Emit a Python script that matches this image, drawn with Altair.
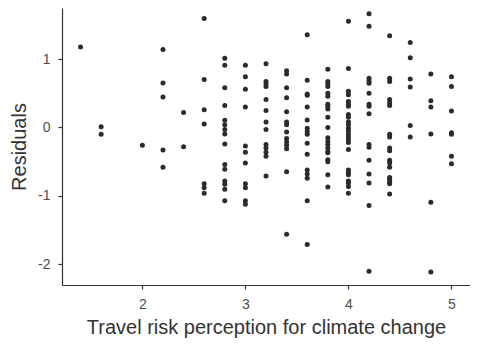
import altair as alt
import pandas as pd

x_levels = [1.4, 1.6, 2.0, 2.2, 2.4, 2.6, 2.8, 3.0, 3.2, 3.4, 3.6, 3.8, 4.0, 4.2, 4.4, 4.6, 4.8, 5.0]
residuals = [
    [1.175],
    [0.01, -0.10],
    [-0.26],
    [1.14, 0.65, 0.445, -0.33, -0.58],
    [0.22, -0.28],
    [1.59, 0.70, 0.26, 0.05, -0.82, -0.88, -0.96],
    [1.01, 0.91, 0.58, 0.32, 0.105, 0.04, -0.03, -0.095, -0.24, -0.54, -0.61, -0.78, -0.83, -0.90, -1.07],
    [0.91, 0.74, 0.56, 0.30, -0.27, -0.36, -0.52, -0.82, -0.88, -1.07, -1.12],
    [0.93, 0.67, 0.64, 0.60, 0.41, 0.25, 0.08, -0.03, -0.25, -0.30, -0.36, -0.42, -0.71],
    [0.83, 0.78, 0.58, 0.435, 0.23, 0.08, 0.04, -0.066, -0.16, -0.21, -0.26, -0.31, -0.645, -1.56],
    [1.355, 0.69, 0.49, 0.47, 0.30, 0.11, -0.01, -0.06, -0.10, -0.23, -0.39, -0.62, -0.68, -0.74, -1.07, -1.71],
    [0.85, 0.67, 0.64, 0.60, 0.50, 0.455, 0.34, 0.31, 0.27, 0.15, 0.00, -0.15, -0.20, -0.25, -0.30, -0.35, -0.37, -0.47, -0.50, -0.69, -0.87],
    [1.55, 0.86, 0.53, 0.48, 0.38, 0.34, 0.31, 0.19, 0.15, 0.08, 0.04, -0.01, -0.05, -0.10, -0.14, -0.18, -0.22, -0.32, -0.62, -0.66, -0.69, -0.78, -0.81, -0.86, -0.96],
    [1.66, 1.48, 0.72, 0.68, 0.645, 0.50, 0.34, 0.31, 0.20, -0.25, -0.29, -0.48, -0.68, -0.81, -1.14, -2.10],
    [1.34, 0.72, 0.67, 0.41, 0.36, 0.32, -0.10, -0.14, -0.30, -0.34, -0.48, -0.52, -0.58, -0.73, -0.76, -0.80, -0.82, -0.97],
    [1.24, 1.02, 0.71, 0.59, 0.03, -0.14],
    [0.78, 0.39, 0.30, -0.095, -1.09, -2.11],
    [0.74, 0.60, 0.24, -0.075, -0.10, -0.42, -0.53],
]
x_ticks = [2, 3, 4, 5]
y_ticks = [-2, -1, 0, 1]

rows = []
for xv, ys in zip(x_levels, residuals):
    for yv in ys:
        rows.append({"x": xv, "y": yv})
df = pd.DataFrame(rows)

FONT = "Liberation Sans"

chart = (
    alt.Chart(df)
    .mark_circle(size=25, color="#2b2b2b", opacity=1)
    .encode(
        x=alt.X(
            "x:Q",
            scale=alt.Scale(domain=[1.22, 5.18], nice=False, zero=False),
            axis=alt.Axis(values=x_ticks, title="Travel risk perception for climate change",
                          labelExpr="datum.value + ''"),
        ),
        y=alt.Y(
            "y:Q",
            scale=alt.Scale(domain=[-2.30, 1.745], nice=False, zero=False),
            axis=alt.Axis(values=y_ticks, title="Residuals", labelExpr="datum.value + ''"),
        ),
    )
    .properties(
        width=408,
        height=277,
        autosize=alt.AutoSizeParams(type="none"),
        padding={"left": 54, "top": 0, "right": 0, "bottom": 54},
    )
    .configure_view(stroke=None)
    .configure_axis(
        grid=False,
        domainColor="#333333",
        domainWidth=1.2,
        tickColor="#333333",
        tickWidth=1.2,
        tickSize=4,
        labelColor="#4d4d4d",
        labelFont=FONT,
        labelFontSize=14,
        titleFont=FONT,
        titleFontSize=20,
        titleFontWeight="normal",
        titleColor="#333333",
    )
    .configure_axisX(labelPadding=8, titlePadding=6)
    .configure_axisY(labelPadding=8, titlePadding=8)
)

chart.save("out.html", embed_options={"renderer": "svg", "actions": False})
